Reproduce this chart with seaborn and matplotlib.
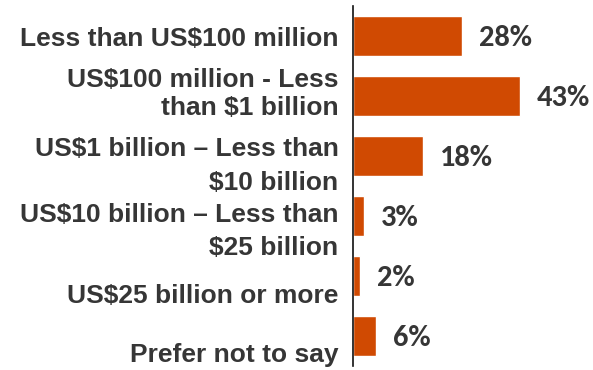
import matplotlib
matplotlib.use("Agg")
import matplotlib.pyplot as plt
import seaborn as sns
import pandas as pd

# Company revenue bands and share of respondents (%)
categories = [
    "Less than US$100 million",
    "US$100 million - Less\nthan $1 billion",
    "US$1 billion \u2013 Less than\n$10 billion",
    "US$10 billion \u2013 Less than\n$25 billion",
    "US$25 billion or more",
    "Prefer not to say",
]
shares = [28, 43, 18, 3, 2, 6]

BAR_COLOR = "#D04A02"
TEXT_COLOR = "#363636"

df = pd.DataFrame({"band": categories, "share": shares})

sns.set_theme(style="white")
plt.rcParams["font.family"] = ["Liberation Sans", "DejaVu Sans"]

fig = plt.figure(figsize=(5.93, 3.70), dpi=100)
ax = fig.add_axes([352.5 / 593, 4 / 370, 234 / 593, 360 / 370])

sns.barplot(data=df, x="share", y="band", color=BAR_COLOR, width=0.667,
            errorbar=None, orient="h", saturation=1, ax=ax)

ax.set_xlim(0, 60)
ax.set_ylim(len(categories) - 0.5, -0.5)
ax.set_xlabel("")
ax.set_ylabel("")
ax.set_xticks([])
ax.set_yticks([])
for side in ("top", "right", "bottom"):
    ax.spines[side].set_visible(False)
ax.spines["left"].set_color("#111111")
ax.spines["left"].set_linewidth(1.2)

# Category labels: baseline of the last line, pixels below the bar centre,
# and the line spacing for wrapped labels
label_drop = [10, 19, 34, 39, 27, 26]
label_spacing = [1.2, 1.2, 1.5, 1.5, 1.2, 1.2]
for i, (name, drop, ls) in enumerate(zip(categories, label_drop, label_spacing)):
    ax.annotate(name, xy=(0, i), xycoords=("axes fraction", "data"),
                xytext=(-14, -drop), textcoords="offset pixels",
                ha="right", va="baseline", multialignment="right",
                linespacing=ls, fontsize=19, fontweight="bold",
                color=TEXT_COLOR, annotation_clip=False)

# Value labels to the right of each bar
for i, v in enumerate(shares):
    ax.annotate(f"{v}%", xy=(v, i), xycoords="data",
                xytext=(17, -2), textcoords="offset pixels",
                ha="left", va="center", fontsize=22, fontweight="bold",
                family=["Carlito", "DejaVu Sans"], color=TEXT_COLOR,
                annotation_clip=False)

fig.savefig("out.png", dpi=100)
